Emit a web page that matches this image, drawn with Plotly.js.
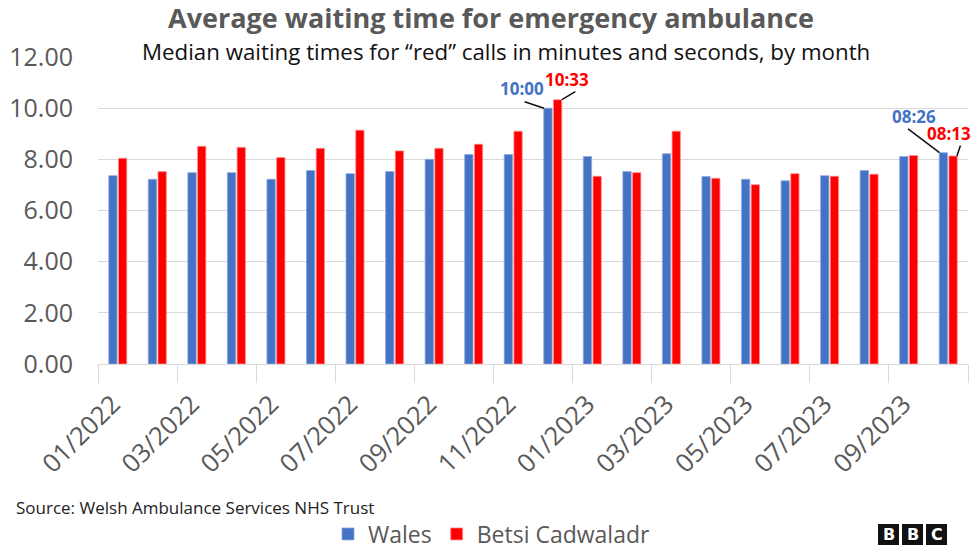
<!DOCTYPE html>
<html>
<head>
<meta charset="utf-8">
<script src="https://cdn.plot.ly/plotly-3.0.1.min.js"></script>
<style>html,body{margin:0;padding:0;background:#fff;}#chart{width:976px;height:549px;}</style>
</head>
<body>
<div id="chart"></div>
<script>
// ---- data ----
const months = ['01/2022','02/2022','03/2022','04/2022','05/2022','06/2022','07/2022','08/2022','09/2022','10/2022','11/2022','12/2022',
                '01/2023','02/2023','03/2023','04/2023','05/2023','06/2023','07/2023','08/2023','09/2023','10/2023'];
const wales = [7.36,7.22,7.48,7.48,7.22,7.56,7.44,7.52,8.00,8.19,8.19,10.00,8.11,7.52,8.22,7.33,7.22,7.16,7.36,7.56,8.11,8.26];
const betsi = [8.04,7.52,8.51,8.47,8.07,8.43,9.14,8.33,8.43,8.59,9.10,10.33,7.34,7.48,9.10,7.26,7.01,7.44,7.34,7.42,8.15,8.13];
const seriesNames = ['Wales','Betsi Cadwaladr'];
const yTicks = [0,2,4,6,8,10,12];
// labelled points: [series, month index, label text]
const callouts = [
  ['wales', 11, '10:00'],
  ['betsi', 11, '10:33'],
  ['wales', 21, '08:26'],
  ['betsi', 21, '08:13']
];

// ---- geometry / style ----
const W = 976, H = 549, mL = 98, mR = 8, mT = 57, mB = 185;
const pw = W - mL - mR, ph = H - mT - mB;
const px2x = p => (p - mL) / pw;
const py2y = p => (H - mB - p) / ph;
const BLUE = '#4472C4', RED = '#FF0000', GREY = '#595959';
const FONT = 'Open Sans, sans-serif';

const idx = months.map((_, i) => i);
const tickIdx = idx.filter(i => i % 2 === 0);

const traces = [
  {type:'bar', name:seriesNames[0], x:idx, y:wales, marker:{color:BLUE, line:{color:'#8eaadc', width:0.8}}, hoverinfo:'y'},
  {type:'bar', name:seriesNames[1], x:idx, y:betsi, marker:{color:RED, line:{color:'#ff9090', width:0.8}}, hoverinfo:'y'}
];

const data = {wales, betsi};
// styling of each callout (offsets in pixels only)
const calloutStyle = {
  '0': {dx:-0.22, col:BLUE, ax:-21, ay:-7, tx:-22, ty:20},
  '1': {dx: 0.23, col:RED,  ax: 15, ay:-9, tx: 5,  ty:20},
  '2': {dx:-0.22, col:BLUE, ax:-33, ay:-25, tx:-26, ty:36},
  '3': {dx: 0.22, col:RED,  ax: 4,  ay:-12, tx:-8, ty:23}
};
const annotations = [];
callouts.forEach((c, k) => {
  const s = calloutStyle[k];
  const xv = c[1] + s.dx, yv = data[c[0]][c[1]];
  annotations.push({x:xv, y:yv, xref:'x', yref:'y', text:'', showarrow:true, arrowhead:0,
    arrowwidth:1.5, arrowcolor:'#111', ax:s.ax, ay:s.ay, standoff:0, startstandoff:0});
  annotations.push({x:xv, y:yv, xref:'x', yref:'y', text:'<b>'+c[2]+'</b>', showarrow:false,
    xshift:s.tx, yshift:s.ty, font:{family:FONT, size:17, color:s.col}});
});
// subtitle
annotations.push({xref:'paper', yref:'paper', x:px2x(506), y:py2y(51), xanchor:'center', yanchor:'middle',
  text:'Median waiting times for \u201cred\u201d calls in minutes and seconds, by month', showarrow:false,
  bgcolor:'#ffffff', borderpad:0, font:{family:FONT, size:22.3, color:'#111'}});
// source
annotations.push({xref:'paper', yref:'paper', x:px2x(14), y:py2y(507), xanchor:'left', yanchor:'middle',
  text:'Source: Welsh Ambulance Services NHS Trust', showarrow:false, font:{family:FONT, size:17, color:'#222'}});
// BBC logo
const shapes = [];
['B','B','C'].forEach((ch, i) => {
  const x0 = 878 + i*24, x1 = x0 + 21;
  shapes.push({type:'rect', xref:'paper', yref:'paper', x0:px2x(x0), x1:px2x(x1), y0:py2y(545), y1:py2y(524),
    fillcolor:'#111', line:{width:0}});
  annotations.push({xref:'paper', yref:'paper', x:px2x((x0+x1)/2), y:py2y(534.5), xanchor:'center', yanchor:'middle',
    text:'<b>'+ch+'</b>', showarrow:false, font:{family:'DejaVu Sans, sans-serif', size:16, color:'#fff'}});
});

const layout = {
  width:W, height:H,
  margin:{l:mL, r:mR, t:mT, b:mB},
  paper_bgcolor:'#fff', plot_bgcolor:'#fff',
  font:{family:FONT, color:GREY},
  title:{text:'<b>Average waiting time for emergency ambulance</b>', font:{family:FONT, size:27, color:GREY},
    x:491/W, xanchor:'center', xref:'container', y:1-19/H, yanchor:'middle', yref:'container'},
  barmode:'group', bargap:0.51, bargroupgap:0.14,
  xaxis:{type:'linear', range:[-0.5, months.length-0.5], tickmode:'array', tickvals:tickIdx,
    ticktext:tickIdx.map(i => months[i]), tickangle:-45, tickfont:{family:FONT, size:25.5, color:GREY},
    ticks:'outside', ticklen:14, tickcolor:'rgba(0,0,0,0)', ticklabelshift:-5, showgrid:false, zeroline:false,
    showline:true, linecolor:'#d9d9d9', linewidth:1,
    minor:{tick0:-0.5, dtick:2, ticks:'outside', ticklen:18, tickcolor:'#d9d9d9', tickwidth:1, showgrid:false}},
  yaxis:{range:[0,12], tickmode:'array', tickvals:yTicks, ticktext:yTicks.map(v => v.toFixed(2)),
    tickfont:{family:FONT, size:25, color:GREY}, gridcolor:'#d9d9d9', gridwidth:1, zeroline:false,
    showline:false, ticks:'', ticklabelstandoff:24},
  showlegend:true,
  legend:{orientation:'h', x:px2x(492), xanchor:'center', y:1-534/H, yref:'container', yanchor:'middle',
    font:{family:FONT, size:23, color:GREY}, itemwidth:30, traceorder:'normal'},
  annotations:annotations,
  shapes:shapes
};

Plotly.newPlot('chart', traces, layout, {displayModeBar:false, staticPlot:true});
</script>
</body>
</html>
